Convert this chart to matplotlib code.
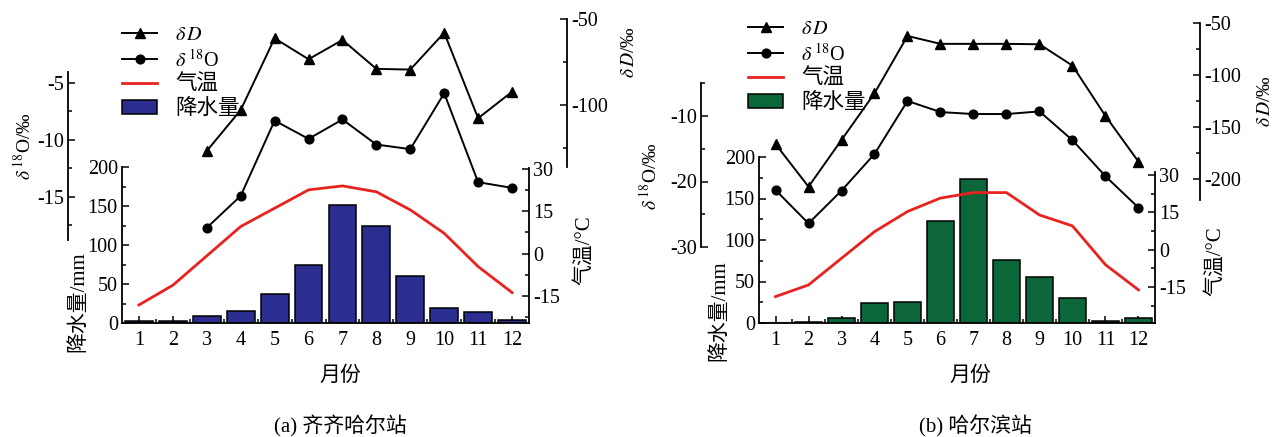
import numpy as np
import matplotlib
matplotlib.use("Agg")
import matplotlib.pyplot as plt
from matplotlib.lines import Line2D
from matplotlib.patches import Patch
from matplotlib.ticker import FixedLocator

plt.rcParams['font.family'] = ['Liberation Serif', 'Noto Sans CJK SC']
plt.rcParams['mathtext.fontset'] = 'stix'
plt.rcParams['axes.unicode_minus'] = False

months = np.arange(1, 13)
month_labels = [str(m) for m in months]

# (a) Qiqihar
precip_a = [2, 2, 9, 15.5, 37.5, 74, 151, 125, 60, 19.5, 14.5, 4]
temp_a = [-18.2, -11.2, -0.8, 9.6, 16.1, 22.6, 24.0, 21.9, 15.5, 7.2, -4.6, -13.8]
d18O_a = [np.nan, np.nan, -17.7, -14.9, -8.3, -9.9, -8.2, -10.4, -10.8, -5.9, -13.7, -14.2]
dD_a = [np.nan, np.nan, -126.7, -102.9, -61.2, -73.4, -62.2, -79.0, -79.4, -58.0, -107.7, -92.3]

# (b) Harbin
precip_b = [0.5, 1, 5.7, 23.7, 25.7, 123, 174, 76, 55, 29.7, 2.8, 6.4]
temp_b = [-18.9, -14.2, -3.5, 7.2, 15.3, 20.7, 22.9, 22.9, 13.9, 9.5, -6.1, -16.2]
d18O_b = [-21.3, -26.4, -21.4, -15.8, -7.7, -9.4, -9.7, -9.7, -9.3, -13.7, -19.2, -24.0]
dD_b = [-166.5, -207.6, -162.6, -117.6, -62.4, -70.0, -70.0, -70.0, -70.4, -91.0, -139.5, -183.5]

W, H = 1274, 437
fig = plt.figure(figsize=(W / 100, H / 100), dpi=100)

TICK_FS = 14.5
CJK_FS = 15
RED = '#e8231f'


def fx(px):
    return px / W


def fy(py):
    return 1 - py / H


def px2pt(p):
    return p * 72 / 100


def style_ticks(a, axis='y'):
    a.tick_params(axis=axis, which='major', direction='in', length=5, width=1.1,
                  labelsize=TICK_FS)
    a.tick_params(axis=axis, which='minor', direction='in', length=3, width=1.1)


def panel(P, precip, temp, d18, dD, barcolor, caption):
    L, R, T, B = P['L'], P['R'], P['T'], P['B']
    ax = fig.add_axes([fx(L), fy(B), (R - L) / W, (B - T) / H])
    ax.patch.set_alpha(0)
    ax.bar(months, precip, width=0.82, color=barcolor, edgecolor='black', lw=1.1, zorder=2)
    ax.set_xlim(0.5, 12.5)
    ax.set_ylim(0, 200)
    ax.set_yticks([0, 50, 100, 150, 200])
    ax.yaxis.set_minor_locator(FixedLocator([25, 75, 125, 175]))
    ax.set_xticks(months)
    ax.set_xticklabels(month_labels)
    ax.xaxis.set_minor_locator(FixedLocator(np.arange(1.5, 12.5, 1)))
    for s in ['top', 'right']:
        ax.spines[s].set_visible(False)
    for s in ['left', 'bottom']:
        ax.spines[s].set_linewidth(1.3)
    style_ticks(ax, 'y')
    style_ticks(ax, 'x')
    ax.tick_params(axis='x', pad=6)
    ax.tick_params(axis='y', pad=3)

    # temperature
    at = ax.twinx()
    at.plot(months, temp, color=RED, lw=2, zorder=3)
    at.set_ylim(*P['tlim'])
    at.set_yticks([-15, 0, 15, 30])
    at.yaxis.set_minor_locator(FixedLocator([-22.5, -7.5, 7.5, 22.5]))
    for s in ['top', 'left', 'bottom']:
        at.spines[s].set_visible(False)
    at.spines['right'].set_bounds(P['tlim'][0], P['tbound'])
    at.spines['right'].set_linewidth(1.3)
    style_ticks(at, 'y')
    at.tick_params(axis='y', pad=3)

    # isotope overlay axes spanning taller area
    OT = 5
    for key, vals, mk, side in [('o', d18, 'o', 'left'), ('d', dD, '^', 'right')]:
        ao = fig.add_axes([fx(L), fy(B), (R - L) / W, (B - OT) / H])
        ao.patch.set_alpha(0)
        ao.set_xlim(0.5, 12.5)
        v0, p0, sc = P[key + 'ref']
        ao.set_ylim(v0 - (B - p0) / sc, v0 + (p0 - OT) / sc)
        ao.plot(months, vals, color='black', lw=1.4, marker=mk,
                ms=6.3 if mk == 'o' else 7, zorder=4)
        ao.set_xticks([])
        for s in ['top', 'bottom', 'left', 'right']:
            ao.spines[s].set_visible(False)
        sp = ao.spines[side]
        sp.set_visible(True)
        sp.set_linewidth(1.3)
        sp.set_position(('outward', px2pt(P[key + 'off'])))
        sp.set_bounds(*P[key + 'bounds'])
        ao.yaxis.set_ticks_position(side)
        ao.yaxis.set_label_position(side)
        ao.set_yticks(P[key + 'ticks'])
        ao.yaxis.set_minor_locator(FixedLocator(P[key + 'minor']))
        style_ticks(ao, 'y')
        ao.tick_params(axis='y', pad=3)

    # labels
    fig.text(fx(P['lab_pr'][0]), fy(P['lab_pr'][1]), '降水量/mm', rotation=90,
             ha='center', va='center', fontsize=CJK_FS)
    fig.text(fx(P['lab_t'][0]), fy(P['lab_t'][1]), '气温/°C', rotation=90,
             ha='center', va='center', fontsize=CJK_FS)
    fig.text(fx(P['lab_o'][0]), fy(P['lab_o'][1]), r'$\delta^{\,18}$O/‰', rotation=90,
             ha='center', va='center', fontsize=14)
    fig.text(fx(P['lab_d'][0]), fy(P['lab_d'][1]), r'$\delta\,D$/‰', rotation=90,
             ha='center', va='center', fontsize=14)
    fig.text(fx(P['lab_x'][0]), fy(P['lab_x'][1]), '月份', ha='center', va='center',
             fontsize=CJK_FS)
    fig.text(fx(P['cap'][0]), fy(P['cap'][1]), caption, ha='center', va='center',
             fontsize=15)

    handles = [
        Line2D([], [], color='black', lw=1.4, marker='^', ms=7),
        Line2D([], [], color='black', lw=1.4, marker='o', ms=6.3),
        Line2D([], [], color=RED, lw=2),
        Patch(facecolor=barcolor, edgecolor='black', lw=1.1),
    ]
    labels = [r'$\delta\,D$', r'$\delta^{\,18}$O', '气温', '降水量']
    leg = fig.legend(handles, labels, loc='upper left',
                     bbox_to_anchor=(fx(P['leg'][0]), fy(P['leg'][1])),
                     frameon=False, fontsize=14.5, handlelength=1.75,
                     handletextpad=0.9, labelspacing=0.2, borderpad=0,
                     borderaxespad=0)
    for t in leg.get_texts()[2:]:
        t.set_fontsize(15.5)
    return ax


PA = dict(L=122, R=529, T=167, B=323,
          tlim=(-24.6, 30.7), tbound=30.3,
          oref=(-10, 140, 11.4), ooff=54, obounds=(-18.8, -4.0),
          oticks=[-15, -10, -5], ominor=[-17.5, -12.5, -7.5],
          dref=(-100, 105, 1.72), doff=38, dbounds=(-136, -50),
          dticks=[-100, -50], dminor=[-125, -75],
          lab_pr=(78, 302), lab_t=(584, 250), lab_o=(24, 146), lab_d=(630, 52),
          lab_x=(340, 376), cap=(340, 426), leg=(122, 26))

PB = dict(L=759, R=1155, T=157, B=323,
          tlim=(-29.5, 37.2), tbound=31.3,
          oref=(-10, 116, 6.55), ooff=58, obounds=(-30, -5),
          oticks=[-30, -20, -10], ominor=[-25, -15, -5],
          dref=(-100, 75, 1.038), doff=45, dbounds=(-220, -50),
          dticks=[-200, -150, -100, -50], dminor=[-175, -125, -75],
          lab_pr=(719, 311), lab_t=(1215, 261), lab_o=(650, 176), lab_d=(1265, 101),
          lab_x=(970, 376), cap=(975, 426), leg=(748, 20))

panel(PA, precip_a, temp_a, d18O_a, dD_a, '#2b2e8e', '(a) 齐齐哈尔站')
panel(PB, precip_b, temp_b, d18O_b, dD_b, '#0b6639', '(b) 哈尔滨站')

fig.savefig('out.png', dpi=100)
